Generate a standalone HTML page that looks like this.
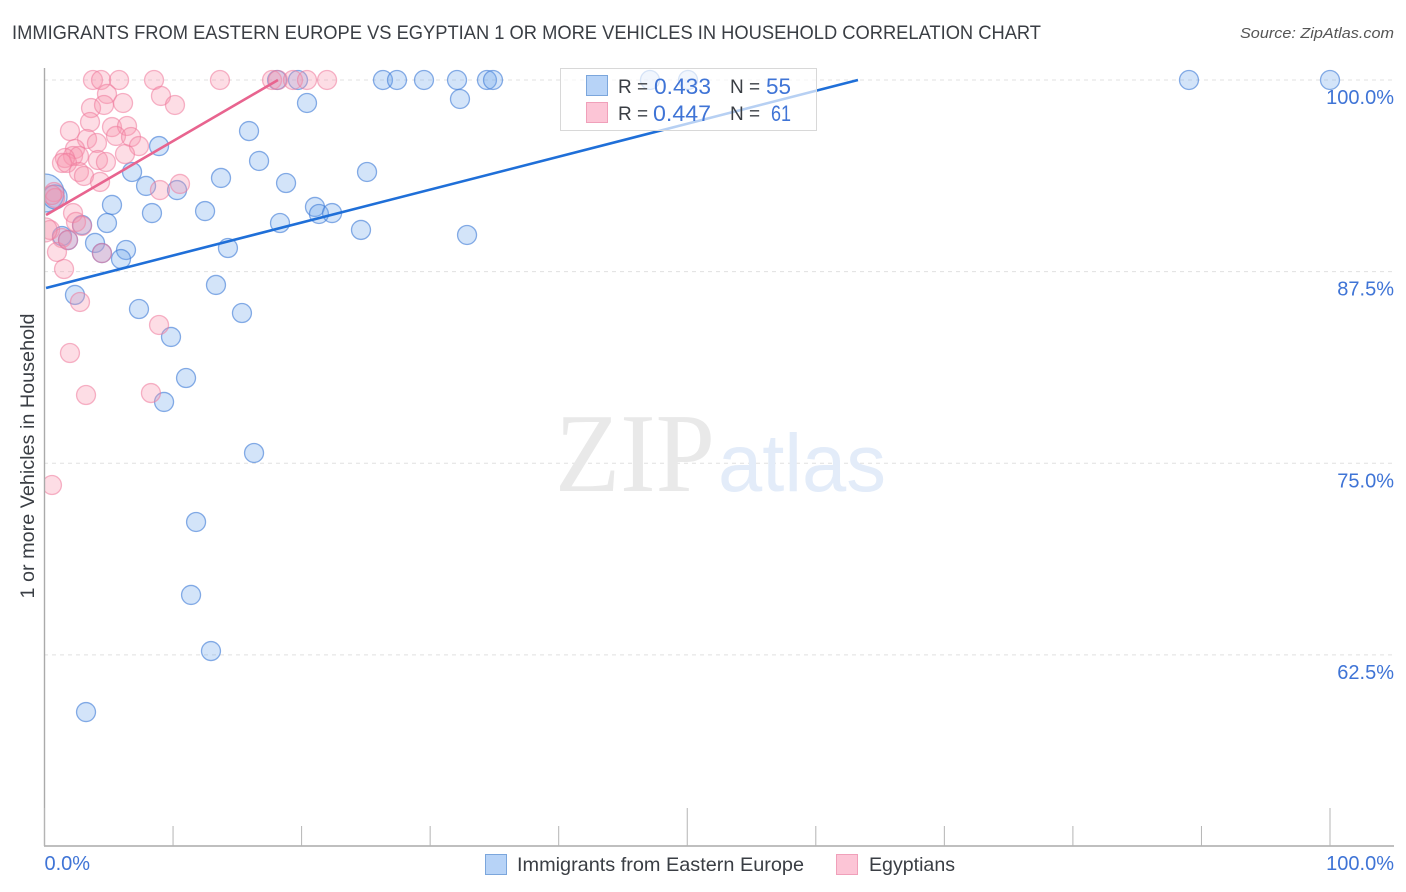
<!DOCTYPE html>
<html lang="en">
<head>
<meta charset="utf-8">
<title>Immigrants from Eastern Europe vs Egyptian 1 or more Vehicles in Household Correlation Chart</title>
<style>
html,body{margin:0;padding:0;background:#fff;width:1406px;height:892px;overflow:hidden}
svg{display:block;font-family:"Liberation Sans",sans-serif}
</style>
</head>
<body>
<svg id="chart" xmlns="http://www.w3.org/2000/svg" width="1406" height="892" viewBox="0 0 1406 892">
  <defs>
    <clipPath id="plot-clip"><rect x="45" y="60" width="1360" height="786"/></clipPath>
  </defs>
  <text x="12" y="39" font-size="19" fill="#3a3e44" textLength="1029" lengthAdjust="spacingAndGlyphs">IMMIGRANTS FROM EASTERN EUROPE VS EGYPTIAN 1 OR MORE VEHICLES IN HOUSEHOLD CORRELATION CHART</text>
  <text x="1394" y="38" font-size="15" font-style="italic" fill="#555" text-anchor="end" textLength="154" lengthAdjust="spacingAndGlyphs">Source: ZipAtlas.com</text>
  <g id="grid"></g>
  <g>
    <text x="555" y="491" font-family="'Liberation Serif',serif" font-size="112" fill="#e9e9e9" textLength="160" lengthAdjust="spacingAndGlyphs">ZIP</text>
    <text x="718" y="491" font-size="82" fill="#e3ecf9" textLength="168" lengthAdjust="spacingAndGlyphs">atlas</text>
  </g>
  <g id="points" clip-path="url(#plot-clip)"></g>
  <g id="trends"></g>
  <g id="axes"></g>
  <g>
    <rect x="560.5" y="68.5" width="256" height="62" fill="#fff" fill-opacity="0.68" stroke="#d8d8d8"/>
    <rect x="586.5" y="75.5" width="21" height="20" fill="#b7d3f7" stroke="#7ba6dc"/>
    <rect x="586.5" y="102.5" width="21" height="20" fill="#fcc5d6" stroke="#f0a0ba"/>
    <text x="618" y="93" font-size="19" fill="#3a3e44">R =</text>
    <text x="654" y="94" font-size="22" fill="#3f74d6" textLength="57" lengthAdjust="spacingAndGlyphs">0.433</text>
    <text x="730" y="93" font-size="19" fill="#3a3e44">N =</text>
    <text x="766" y="94" font-size="22" fill="#3f74d6" textLength="25" lengthAdjust="spacingAndGlyphs">55</text>
    <text x="618" y="120" font-size="19" fill="#3a3e44">R =</text>
    <text x="653" y="121" font-size="22" fill="#3f74d6" textLength="58" lengthAdjust="spacingAndGlyphs">0.447</text>
    <text x="730" y="120" font-size="19" fill="#3a3e44">N =</text>
    <text x="771" y="121" font-size="22" fill="#3f74d6" textLength="20" lengthAdjust="spacingAndGlyphs">61</text>
  </g>
  <text transform="translate(34,456) rotate(-90)" font-size="19" fill="#3a3e44" text-anchor="middle" textLength="285" lengthAdjust="spacingAndGlyphs">1 or more Vehicles in Household</text>
  <g>
    <rect x="485.5" y="854.5" width="21" height="20" fill="#b7d3f7" stroke="#7ba6dc"/>
    <text x="517" y="871" font-size="19.5" fill="#3a3e44" textLength="287" lengthAdjust="spacingAndGlyphs">Immigrants from Eastern Europe</text>
    <rect x="836.5" y="854.5" width="21" height="20" fill="#fcc5d6" stroke="#f0a0ba"/>
    <text x="869" y="871" font-size="19.5" fill="#3a3e44" textLength="86" lengthAdjust="spacingAndGlyphs">Egyptians</text>
  </g>
</svg>
<script>
const yTickValues = [100, 87.5, 75, 62.5];
const yTickLabels = ['100.0%', '87.5%', '75.0%', '62.5%'];
const xTickValues = [0, 10, 20, 30, 40, 50, 60, 70, 80, 90, 100];
const xMajorTicks = [0, 50, 100];
const xEdgeValues = [0, 100];
const xEdgeLabels = ['0.0%', '100.0%'];

const blueX = [18.09,19.72,26.33,27.42,29.52,32.09,34.42,34.89,47.10,50.06,89.03,100,20.42,32.32,15.91,8.91,16.69,6.81,25.09,13.73,7.90,10.31,18.79,5.25,12.49,8.36,21.04,21.35,22.37,4.86,18.32,2.92,24.62,32.87,1.36,1.83,3.93,6.34,14.27,4.47,5.95,13.34,2.37,7.35,15.36,9.84,11.01,9.30,16.30,11.79,11.40,12.95,3.23];
const blueY = [100,100,100,100,100,100,100,100,100,100,100,100,98.50,98.76,96.67,95.69,94.72,94.00,94.00,93.61,93.09,92.82,93.28,91.85,91.45,91.32,91.72,91.26,91.32,90.67,90.67,90.54,90.22,89.89,89.82,89.56,89.37,88.91,89.04,88.71,88.32,86.63,85.98,85.06,84.80,83.24,80.56,79.00,75.67,71.17,66.41,62.75,58.77];
const blueClusterX = [0.04, 0.82];
const blueClusterY = [92.63, 92.37];
const blueClusterWeight = [4, 1.6];

const pinkX = [3.77,4.40,5.80,8.52,13.65,17.70,18.16,19.33,20.42,21.98,4.86,9.06,10.15,3.62,4.63,6.11,3.54,1.98,5.25,6.42,5.56,6.73,3.31,4.08,7.35,2.37,2.22,2.68,1.59,1.36,1.75,6.26,4.16,4.78,2.68,3.07,4.32,8.98,10.54,2.22,2.45,2.92,0.43,1.36,0.97,1.52,2.76,4.47,1.98,3.23,8.91,8.28,0.58,0.74,0.82,0.58,1.83];
const pinkY = [100,100,100,100,100,100,100,100,100,100,99.09,98.96,98.37,98.17,98.37,98.50,97.26,96.67,96.93,97.00,96.35,96.28,96.15,95.89,95.69,95.50,95.04,95.04,94.91,94.59,94.59,95.17,94.78,94.65,94.00,93.74,93.35,92.82,93.22,91.32,90.74,90.48,90.22,89.69,88.78,87.67,85.52,88.71,82.19,79.45,84.02,79.58,73.58,92.69,92.30,92.50,89.56];
const pinkClusterX = [0.04];
const pinkClusterY = [90.22];
const pinkClusterWeight = [1.6];

const blueTrendX = [0.12, 63.28];
const blueTrendY = [86.43, 100];
const pinkTrendX = [0.12, 18.16];
const pinkTrendY = [91.19, 100];

const NS = 'http://www.w3.org/2000/svg';
const xScale = v => 44.5 + v * 12.855;
const yScale = v => 80 + (100 - v) * 15.33;
const rScale = w => 9.5 * Math.sqrt(w);

function make(tag, attrs, parent) {
  const el = document.createElementNS(NS, tag);
  for (const k in attrs) el.setAttribute(k, attrs[k]);
  parent.appendChild(el);
  return el;
}

const gridG = document.getElementById('grid');
const axesG = document.getElementById('axes');
const pointsG = document.getElementById('points');
const trendsG = document.getElementById('trends');

yTickValues.forEach((v, i) => {
  const line = make('line', {x1: 44, x2: 1394, y1: yScale(v), y2: yScale(v), stroke: '#e0e0e0', 'stroke-dasharray': '4 4'}, gridG);
  
  
  const label = make('text', {x: 1394, y: yScale(v) + 24, 'font-size': 20, fill: '#3f74d6', 'text-anchor': 'end'}, axesG);
  label.textContent = yTickLabels[i];
  
  
});

const yAxis = make('line', {x1: 44.5, x2: 44.5, y1: 68, y2: 846, stroke: '#aaaaaa', 'stroke-width': 1.4}, axesG);


const xAxis = make('line', {x1: 44, x2: 1394, y1: 846, y2: 846, stroke: '#aaaaaa', 'stroke-width': 1.4}, axesG);



xTickValues.forEach(v => {
  const top = xMajorTicks.includes(v) ? 808 : 826;
  const tick = make('line', {x1: xScale(v), x2: xScale(v), y1: top, y2: 846, stroke: '#b4b4b4'}, axesG);
  
  
});

xEdgeValues.forEach((v, i) => {
  const label = make('text', {x: i === 0 ? xScale(v) : 1394, y: 870, 'font-size': 20, fill: '#3f74d6', 'text-anchor': i === 0 ? 'start' : 'end'}, axesG);
  label.textContent = xEdgeLabels[i];
  
  
});

const pinkStyle = {fill: 'rgba(248,150,175,0.32)', stroke: 'rgba(238,120,155,0.55)', 'stroke-width': 1.3};
const blueStyle = {fill: 'rgba(110,165,235,0.30)', stroke: 'rgba(65,125,215,0.62)', 'stroke-width': 1.3};

function drawPink(xs, ys, ws) {
  xs.forEach((x, i) => {
    const c = make('circle', Object.assign({cx: xScale(x), cy: yScale(ys[i]), r: rScale(ws ? ws[i] : 1)}, pinkStyle), pointsG);
    
    
  });
}
function drawBlue(xs, ys, ws) {
  xs.forEach((x, i) => {
    const c = make('circle', Object.assign({cx: xScale(x), cy: yScale(ys[i]), r: rScale(ws ? ws[i] : 1)}, blueStyle), pointsG);
    
    
  });
}
drawBlue(blueX, blueY);
drawBlue(blueClusterX, blueClusterY, blueClusterWeight);
drawPink(pinkX, pinkY);
drawPink(pinkClusterX, pinkClusterY, pinkClusterWeight);

const blueLine = make('line', {x1: xScale(blueTrendX[0]), y1: yScale(blueTrendY[0]), x2: xScale(blueTrendX[1]), y2: yScale(blueTrendY[1]), stroke: '#1f6fd8', 'stroke-width': 2.6}, trendsG);


const pinkLine = make('line', {x1: xScale(pinkTrendX[0]), y1: yScale(pinkTrendY[0]), x2: xScale(pinkTrendX[1]), y2: yScale(pinkTrendY[1]), stroke: '#e8648f', 'stroke-width': 2.6}, trendsG);


</script>
</body>
</html>
